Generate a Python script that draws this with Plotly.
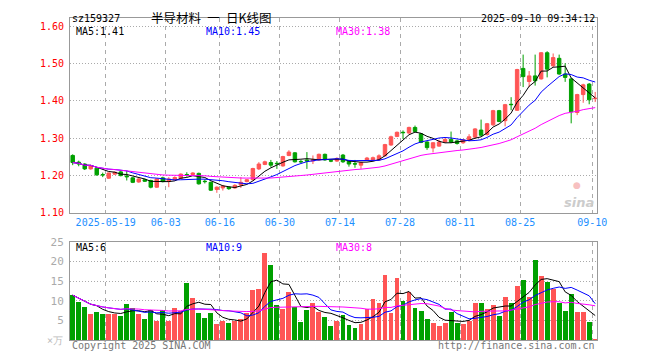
import plotly.graph_objects as go
import pandas as pd

dates = ["05-09", "05-12", "05-13", "05-14", "05-15", "05-16", "05-19", "05-20", "05-21", "05-22",
         "05-23", "05-26", "05-27", "05-28", "05-29", "05-30", "06-03", "06-04", "06-05", "06-06",
         "06-09", "06-10", "06-11", "06-12", "06-13", "06-16", "06-17", "06-18", "06-19", "06-20",
         "06-23", "06-24", "06-25", "06-26", "06-27", "06-30", "07-01", "07-02", "07-03", "07-04",
         "07-07", "07-08", "07-09", "07-10", "07-11", "07-14", "07-15", "07-16", "07-17", "07-18",
         "07-21", "07-22", "07-23", "07-24", "07-25", "07-28", "07-29", "07-30", "07-31", "08-01",
         "08-04", "08-05", "08-06", "08-07", "08-08", "08-11", "08-12", "08-13", "08-14", "08-15",
         "08-18", "08-19", "08-20", "08-21", "08-22", "08-25", "08-26", "08-27", "08-28", "08-29",
         "09-01", "09-02", "09-03", "09-04", "09-05", "09-08", "09-09", "09-10"]

opens = [1.254, 1.236, 1.231, 1.218, 1.220, 1.203, 1.193, 1.204, 1.210, 1.199,
         1.194, 1.183, 1.189, 1.187, 1.169, 1.194, 1.185, 1.189, 1.193, 1.203,
         1.203, 1.206, 1.185, 1.182, 1.163, 1.167, 1.169, 1.167, 1.175, 1.184,
         1.189, 1.218, 1.230, 1.235, 1.233, 1.226, 1.254, 1.261, 1.238, 1.242,
         1.239, 1.242, 1.257, 1.240, 1.239, 1.255, 1.239, 1.232, 1.228, 1.242,
         1.242, 1.242, 1.253, 1.282, 1.305, 1.316, 1.314, 1.329, 1.312, 1.290,
         1.274, 1.279, 1.290, 1.297, 1.293, 1.288, 1.295, 1.303, 1.322, 1.310,
         1.336, 1.374, 1.347, 1.391, 1.375, 1.487, 1.452, 1.467, 1.459, 1.529,
         1.494, 1.514, 1.472, 1.459, 1.369, 1.417, 1.445, 1.406]
highs = [1.257, 1.240, 1.233, 1.229, 1.222, 1.208, 1.208, 1.211, 1.214, 1.213,
         1.196, 1.193, 1.192, 1.189, 1.193, 1.197, 1.196, 1.198, 1.206, 1.209,
         1.209, 1.208, 1.190, 1.184, 1.171, 1.175, 1.171, 1.177, 1.196, 1.191,
         1.221, 1.236, 1.240, 1.242, 1.239, 1.253, 1.268, 1.263, 1.242, 1.263,
         1.254, 1.259, 1.259, 1.243, 1.249, 1.258, 1.241, 1.242, 1.237, 1.250,
         1.251, 1.257, 1.285, 1.307, 1.318, 1.321, 1.331, 1.334, 1.314, 1.292,
         1.290, 1.296, 1.300, 1.318, 1.296, 1.298, 1.311, 1.327, 1.350, 1.341,
         1.376, 1.376, 1.392, 1.410, 1.486, 1.524, 1.480, 1.524, 1.531, 1.533,
         1.527, 1.524, 1.501, 1.461, 1.419, 1.446, 1.448, 1.424]
lows = [1.228, 1.225, 1.215, 1.216, 1.200, 1.196, 1.191, 1.202, 1.198, 1.187,
        1.180, 1.181, 1.183, 1.166, 1.167, 1.182, 1.169, 1.187, 1.191, 1.197,
        1.201, 1.176, 1.179, 1.159, 1.154, 1.160, 1.162, 1.165, 1.167, 1.182,
        1.187, 1.215, 1.228, 1.222, 1.218, 1.224, 1.252, 1.235, 1.233, 1.218,
        1.231, 1.240, 1.240, 1.236, 1.237, 1.234, 1.224, 1.221, 1.218, 1.240,
        1.240, 1.240, 1.251, 1.280, 1.303, 1.298, 1.312, 1.316, 1.287, 1.269,
        1.262, 1.277, 1.288, 1.287, 1.283, 1.285, 1.292, 1.300, 1.305, 1.307,
        1.333, 1.343, 1.332, 1.375, 1.373, 1.437, 1.437, 1.441, 1.457, 1.463,
        1.490, 1.470, 1.451, 1.340, 1.362, 1.395, 1.391, 1.397]
closes = [1.235, 1.231, 1.218, 1.226, 1.202, 1.202, 1.207, 1.209, 1.200, 1.197,
          1.182, 1.191, 1.185, 1.169, 1.191, 1.184, 1.191, 1.195, 1.204, 1.202,
          1.207, 1.178, 1.184, 1.161, 1.169, 1.172, 1.165, 1.174, 1.182, 1.189,
          1.219, 1.231, 1.237, 1.228, 1.232, 1.251, 1.263, 1.237, 1.237, 1.239,
          1.242, 1.257, 1.242, 1.239, 1.246, 1.237, 1.231, 1.231, 1.235, 1.247,
          1.248, 1.253, 1.283, 1.304, 1.316, 1.315, 1.329, 1.318, 1.289, 1.275,
          1.288, 1.290, 1.297, 1.290, 1.286, 1.296, 1.304, 1.325, 1.308, 1.339,
          1.374, 1.345, 1.390, 1.390, 1.484, 1.465, 1.467, 1.454, 1.529, 1.485,
          1.516, 1.472, 1.463, 1.371, 1.417, 1.443, 1.403, 1.407]
volumes = [11.4, 9.7, 8.5, 6.8, 7.2, 6.8, 6.8, 6.8, 6.1, 9.3,
           8.2, 6.8, 5.5, 7.8, 5.0, 7.6, 5.0, 8.2, 7.4, 14.7,
           10.7, 7.0, 5.7, 7.0, 4.1, 5.0, 4.5, 4.9, 5.5, 6.9,
           12.8, 13.0, 22.2, 19.2, 8.9, 8.0, 12.4, 8.6, 4.7, 7.6,
           9.5, 7.2, 6.0, 3.6, 5.0, 6.4, 3.9, 3.1, 4.1, 7.9,
           10.6, 9.5, 16.5, 7.0, 15.9, 10.1, 12.2, 8.1, 7.4, 5.4,
           4.4, 3.6, 4.4, 7.1, 4.4, 4.1, 5.0, 9.4, 9.4, 7.9,
           8.9, 6.1, 10.9, 9.4, 13.9, 15.4, 10.9, 20.4, 16.4, 14.9,
           13.1, 9.4, 7.4, 11.9, 7.1, 7.1, 4.6, 0.4]

tick_dates = ["05-19", "06-03", "06-16", "06-30", "07-14", "07-28", "08-11", "08-25", "09-10"]
tick_labels = ["2025-05-19", "06-03", "06-16", "06-30", "07-14", "07-28", "08-11", "08-25", "09-10"]
price_ticks = [1.10, 1.20, 1.30, 1.40, 1.50, 1.60]
vol_ticks = [5, 10, 15, 20, 25]

RED = "#ff5555"
GREEN = "#00a000"
MONO = "DejaVu Sans Mono"

idx = list(range(len(dates)))
tickvals = [dates.index(d) - 0.5 for d in tick_dates]

cs = pd.Series(closes)
vs = pd.Series(volumes)
ma_specs = [(5, "black"), (10, "#0000ff"), (30, "#ff00ff")]

fig = go.Figure()
fig.add_trace(go.Candlestick(
    x=idx, open=opens, high=highs, low=lows, close=closes,
    increasing=dict(line=dict(color=RED, width=1), fillcolor=RED),
    decreasing=dict(line=dict(color=GREEN, width=1), fillcolor=GREEN),
    whiskerwidth=0, xaxis="x", yaxis="y", hoverinfo="skip"))
for n, col in ma_specs:
    fig.add_trace(go.Scatter(x=idx, y=cs.rolling(n, min_periods=1).mean(), mode="lines",
                             line=dict(color=col, width=1), xaxis="x", yaxis="y", hoverinfo="skip"))

vol_colors = [RED if c >= o else GREEN for o, c in zip(opens, closes)]
fig.add_trace(go.Bar(x=idx, y=volumes, marker=dict(color=vol_colors, line=dict(width=0)),
                     width=0.82, xaxis="x2", yaxis="y2", hoverinfo="skip"))
for n, col in ma_specs:
    fig.add_trace(go.Scatter(x=idx, y=vs.rolling(n, min_periods=1).mean(), mode="lines",
                             line=dict(color=col, width=1), xaxis="x2", yaxis="y2", hoverinfo="skip"))

L, R, T, B = 70, 63, 13, 19.5
W, H = 660, 360
PW, PH = W - L - R, H - T - B


def px(x):
    return (x - L) / PW


def py(y):
    return (H - B - y) / PH


main_bottom = py(211.3)
vol_top = py(240.5)

grid_common = dict(showline=True, mirror=True, linecolor="#999999", linewidth=1, zeroline=False)
xr = [-0.45, 87.3]

fig.update_layout(
    width=W, height=H, margin=dict(l=L, r=R, t=T, b=B),
    paper_bgcolor="white", plot_bgcolor="white", showlegend=False, boxgap=0.18, bargap=0,
    xaxis=dict(domain=[0, 1], range=xr, anchor="y", tickvals=tickvals, ticktext=tick_labels,
               showgrid=True, gridcolor="#aaaaaa", griddash="4px,4px", ticks="",
               tickfont=dict(family=MONO, size=10, color="#1e90ff"),
               rangeslider=dict(visible=False), **grid_common),
    yaxis=dict(domain=[main_bottom, 1], range=[1.10, 1.622], tickvals=price_ticks,
               ticktext=[f"{v:.2f}" for v in price_ticks], showgrid=True, gridcolor="#aaaaaa",
               griddash="1px,2px", ticks="", ticklabelstandoff=3,
               tickfont=dict(family=MONO, size=10, color="#ff0000"), **grid_common),
    xaxis2=dict(domain=[0, 1], range=xr, anchor="y2", tickvals=tickvals, showticklabels=False,
                showgrid=True, gridcolor="#aaaaaa", griddash="4px,4px", ticks="", **grid_common),
    yaxis2=dict(domain=[0, vol_top], range=[0, 25], tickvals=vol_ticks, showgrid=True,
                gridcolor="#aaaaaa", griddash="1px,2px", ticks="", ticklabelstandoff=3,
                tickfont=dict(family=MONO, size=11, color="#aaaaaa"), **grid_common),
)


def label(text, x, y, color="black", anchor="left", size=10, family=MONO, **kw):
    fig.add_annotation(text=text, x=px(x), y=py(y), xref="paper", yref="paper",
                       xanchor=anchor, yanchor="middle", showarrow=False,
                       font=dict(family=family, size=size, color=color), **kw)


label("sz159327", 70, 13)
label("半导材料\u2002一\u2002日K线图", 149, 12, size=12.5, family="Noto Sans CJK SC")
label("2025-09-10 09:34:12", 597, 13, anchor="right")
label("MA5:1.41", 74, 26.5)
label("MA10:1.45", 204, 26.5, color="#0000ff")
label("MA30:1.38", 334, 26.5, color="#ff00ff")
label("MA5:6", 74, 246.5)
label("MA10:9", 204, 246.5, color="#0000ff")
label("MA30:8", 334, 246.5, color="#ff00ff")
label("×万", 65, 341, color="#bbbbbb", anchor="right")
label("Copyright 2025 SINA.COM", 70, 346, color="#777777")
label("http://finance.sina.com.cn", 597, 346, color="#777777", anchor="right")
label("<b><i>sina</i></b>", 579, 201, color="#cccccc", anchor="center", size=13, family="DejaVu Sans")
label("●", 577, 183, color="#f7c0c0", anchor="center", size=9, family="DejaVu Sans")

fig.write_html("out.html", config={"displayModeBar": False},
               post_script="document.body.style.margin='0px';document.body.style.overflow='hidden';")
